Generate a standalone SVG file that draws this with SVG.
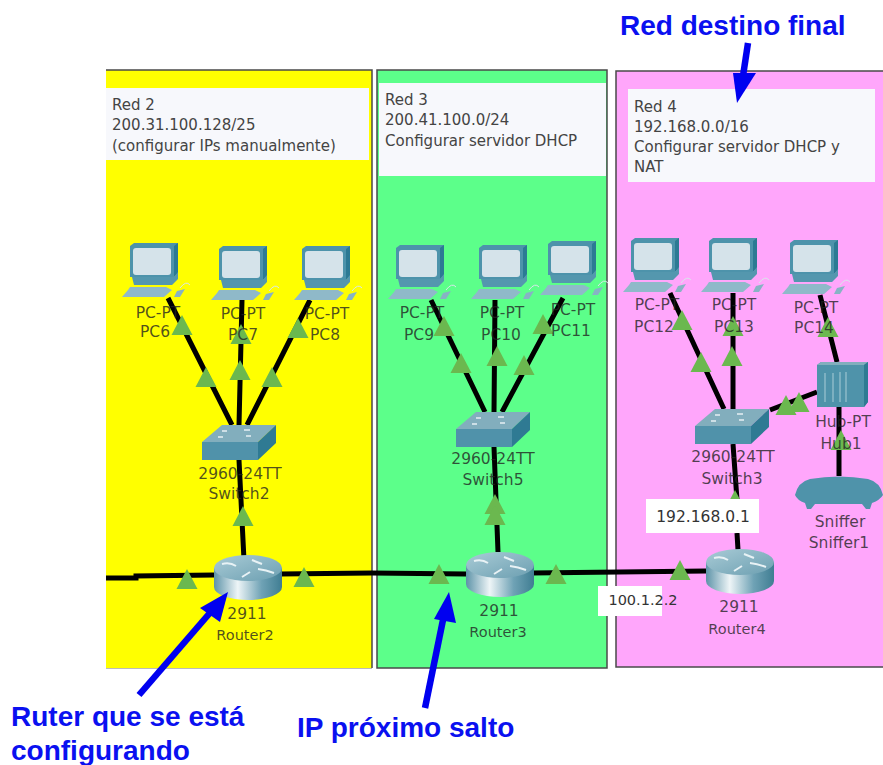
<svg xmlns="http://www.w3.org/2000/svg" xmlns:xlink="http://www.w3.org/1999/xlink" width="883" height="765" viewBox="0 0 883 765">
<style>
.panel{stroke:#4a4a4a;stroke-width:1.5}
.note{fill:#f7f8fc}
.nt{font:15px "DejaVu Sans",sans-serif;fill:#444}
.lb{font:15.5px "DejaVu Sans",sans-serif;fill:#222;fill-opacity:.78;text-anchor:middle}
.lk{fill:none;stroke:#000;stroke-width:5}
.tr{fill:#6bb84f}
.bl{font:bold 28px "Liberation Sans",Arial,sans-serif;fill:#0a10f0}
.ar{stroke:#0000f0;stroke-width:6.5;fill:none}
.ah{fill:#0000f0}
.ip{fill:#fff}
.ipt{font:15.5px "DejaVu Sans",sans-serif;fill:#333;text-anchor:middle}
</style>
<defs>
<linearGradient id="rg" x1="0" x2="1" y1="0" y2="0"><stop offset="0" stop-color="#5d93a8"/><stop offset=".35" stop-color="#eef5f7"/><stop offset=".7" stop-color="#6fa2b5"/><stop offset="1" stop-color="#3f7d92"/></linearGradient>
<linearGradient id="rt" x1="0" x2="1" y1="0" y2="1"><stop offset="0" stop-color="#a9cbd6"/><stop offset="1" stop-color="#6c9fb1"/></linearGradient>
<g id="pc">
<path d="M0 3L4 0H48V30L44 34H0Z" fill="#4d93ab"/><path d="M44 3L48 0V30L44 34Z" fill="#2c7a94"/>
<rect x="3" y="5" width="38" height="27" rx="3" fill="#d5e3ea"/>
<path d="M2 34H44L48 29V36L42 42H4Z" fill="#5497ae"/>
<path d="M0 44H44L36 44 42 47 34 54H-8L-2 47Z" fill="#8fb9c9"/>
<path d="M47 48L55 46 50 54H44Z" fill="#87b3c4"/><path d="M50 45Q56 37 60 42" fill="none" stroke="#d9e6ea" stroke-width="1"/>
</g>
<g id="sw">
<path d="M0 17L20 0H74L56 17Z" fill="#82aebd"/><path d="M0 17H56V35H0Z" fill="#5092aa"/><path d="M56 17L74 0V18L56 35Z" fill="#2f7a93"/>
<path d="M20 6h5M42 5h6M16 12h5M44 11h5" stroke="#e6f0f3" stroke-width="1.5"/>
</g>
<g id="rtr">
<path d="M0 13V32A34 13 0 0 0 68 32V13Z" fill="url(#rg)"/>
<ellipse cx="34" cy="13" rx="34" ry="13" fill="url(#rt)"/>
<path d="M8 9Q16 7 22 11M38 5L48 9M28 22L36 17M44 14Q52 15 60 18" stroke="#e8f2f5" stroke-width="2" fill="none"/>
</g>
<path id="t" d="M0-10L10.500 10H-10.500Z"/>
</defs>
<g id="panels">
<rect x="106" y="70" width="266" height="598" fill="#ffff00"/><path d="M106 70H372V668" fill="none" stroke="#4a4a4a" stroke-width="1.500"/><path d="M106 668.500H372" stroke="#bbb"/>
<rect class="panel" x="377" y="70" width="230" height="598" fill="#5cff8a"/>
<rect class="panel" x="616" y="71" width="270" height="596" fill="#ffa6fb"/>
</g>
<g id="notes">
<rect class="note" x="106" y="88" width="263" height="72"/>
<text class="nt" x="112" y="110">Red 2</text><text class="nt" x="112" y="130">200.31.100.128/25</text><text class="nt" x="112" y="151">(configurar IPs manualmente)</text>
<rect class="note" x="379" y="83" width="227" height="93"/>
<text class="nt" x="385" y="105">Red 3</text><text class="nt" x="385" y="125">200.41.100.0/24</text><text class="nt" x="385" y="146">Configurar servidor DHCP</text>
<rect class="note" x="628" y="89" width="247" height="93"/>
<text class="nt" x="634" y="112">Red 4</text><text class="nt" x="634" y="132">192.168.0.0/16</text><text class="nt" x="634" y="152">Configurar servidor DHCP y</text><text class="nt" x="634" y="172">NAT</text>
</g>
<g id="connectors">
<path class="lk" d="M168 298L232 425M242 300L239 425M310 300L247 425M239 460L244 560"/>
<path class="lk" d="M106 578H136V576L214 575M280 574L372 573L466 574M532 573L706 571"/>
<path class="lk" d="M431 300L485 412M495 300L494 412M563 298L502 412M494 447L498 552"/>
<path class="lk" d="M670 293L724 409M733 293V409M820 295L837 362M817 392L770 410M733 444L737 500M737 533L738 550M839 407V476" />
</g>
<g id="linkmarks" class="tr">
<use href="#t" x="182" y="325"/><use href="#t" x="206" y="377"/><use href="#t" x="241" y="334"/><use href="#t" x="240" y="370"/><use href="#t" x="272" y="377"/><use href="#t" x="298" y="328"/><use href="#t" x="243" y="516"/>
<use href="#t" x="187" y="579"/><use href="#t" x="304" y="577"/><use href="#t" x="439" y="574"/><use href="#t" x="556" y="574"/><use href="#t" x="680" y="570"/>
<use href="#t" x="444" y="326"/><use href="#t" x="461" y="363"/><use href="#t" x="497" y="356"/><use href="#t" x="524" y="365"/><use href="#t" x="543" y="324"/><use href="#t" x="495" y="504"/><use href="#t" x="495" y="515"/>
<use href="#t" x="682" y="320"/><use href="#t" x="701" y="362"/><use href="#t" x="733" y="326"/><use href="#t" x="732" y="356"/><use href="#t" x="828" y="327"/><use href="#t" x="786" y="405"/><use href="#t" x="799" y="402"/><use href="#t" x="841" y="440"/><use href="#t" x="735" y="500"/>
</g>
<g id="PC6"><use href="#pc" x="130" y="243"/><text class="lb" x="158" y="318">PC-PT</text><text class="lb" x="155" y="337">PC6</text></g>
<g id="PC7"><use href="#pc" x="219" y="246"/><text class="lb" x="243" y="319">PC-PT</text><text class="lb" x="243" y="340">PC7</text></g>
<g id="PC8"><use href="#pc" x="302" y="246"/><text class="lb" x="327" y="319">PC-PT</text><text class="lb" x="325" y="340">PC8</text></g>
<g id="Switch2"><use href="#sw" x="202" y="425"/><text class="lb" x="240" y="479">2960-24TT</text><text class="lb" x="239" y="499">Switch2</text></g>
<g id="Router2"><use href="#rtr" x="214" y="555"/><text class="lb" x="247" y="619">2911</text><text class="lb" x="245" y="640" style="font-size:14.500px">Router2</text></g>
<g id="PC9"><use href="#pc" x="396" y="245"/><text class="lb" x="422" y="318">PC-PT</text><text class="lb" x="419" y="340">PC9</text></g>
<g id="PC10"><use href="#pc" x="479" y="245"/><text class="lb" x="502" y="318">PC-PT</text><text class="lb" x="501" y="340">PC10</text></g>
<g id="PC11"><use href="#pc" x="548" y="241"/><text class="lb" x="573" y="315">PC-PT</text><text class="lb" x="571" y="336">PC11</text></g>
<g id="Switch5"><use href="#sw" x="456" y="412"/><text class="lb" x="493" y="464">2960-24TT</text><text class="lb" x="493" y="485">Switch5</text></g>
<g id="Router3"><use href="#rtr" x="466" y="552"/><text class="lb" x="499" y="616">2911</text><text class="lb" x="498" y="637" style="font-size:14.500px">Router3</text></g>
<g id="PC12"><use href="#pc" x="631" y="238"/><text class="lb" x="657" y="310">PC-PT</text><text class="lb" x="654" y="332">PC12</text></g>
<g id="PC13"><use href="#pc" x="709" y="238"/><text class="lb" x="734" y="310">PC-PT</text><text class="lb" x="734" y="332">PC13</text></g>
<g id="PC14"><use href="#pc" x="790" y="240"/><text class="lb" x="816" y="313">PC-PT</text><text class="lb" x="814" y="333">PC14</text></g>
<g id="Switch3"><use href="#sw" x="695" y="409"/><text class="lb" x="733" y="462">2960-24TT</text><text class="lb" x="732" y="484">Switch3</text></g>
<g id="Hub1"><path d="M817 365L821 362H868V402L864 407H817Z" fill="#4f93aa"/><path d="M817 365L821 362H868L864 365Z" fill="#82aebd"/><path d="M864 365L868 362V402L864 407Z" fill="#2f7a93"/><path d="M825 373V402M833 373V402M840 372V402M846 372V402" stroke="#9cc3d0" stroke-width="1.200"/><text class="lb" x="843" y="427">Hub-PT</text><text class="lb" x="841" y="449">Hub1</text></g>
<g id="Sniffer1"><path d="M795 495Q798 482 810 479Q839 474 868 479Q880 482 883 495Q880 500 872 503L870 509H866L862 504H815L811 509H807L805 503Q797 500 795 495Z" fill="#4f93aa"/><text class="lb" x="840" y="527">Sniffer</text><text class="lb" x="839" y="548">Sniffer1</text></g>
<g id="Router4"><use href="#rtr" x="706" y="549"/><text class="lb" x="739" y="612">2911</text><text class="lb" x="737" y="634" style="font-size:14.500px">Router4</text></g>
<g id="ip-labels">
<rect class="ip" x="646" y="499" width="113" height="34"/><text class="ipt" x="703" y="522">192.168.0.1</text>
<rect class="ip" x="598" y="586" width="64" height="30"/><text class="ipt" x="643" y="605" style="font-size:0"></text>
<text class="ipt" x="643" y="605" style="font-size:14.500px">100.1.2.2</text>
</g>
<g id="annotations">
<path class="ar" d="M139 695L215 607"/><path class="ah" d="M228 592L200 608L220 622Z"/>
<path class="ar" d="M425 708L444 615"/><path class="ah" d="M449 592L434 619L456 623Z"/>
<path class="ar" d="M748 43L743 76"/><path class="ah" d="M737 103L733 73L756 73Z"/>
<text class="bl" x="620" y="35">Red destino final</text>
<text class="bl" x="11" y="726">Ruter que se está</text>
<text class="bl" x="11" y="760">configurando</text>
<text class="bl" x="297" y="737">IP próximo salto</text>
</g>
</svg>
